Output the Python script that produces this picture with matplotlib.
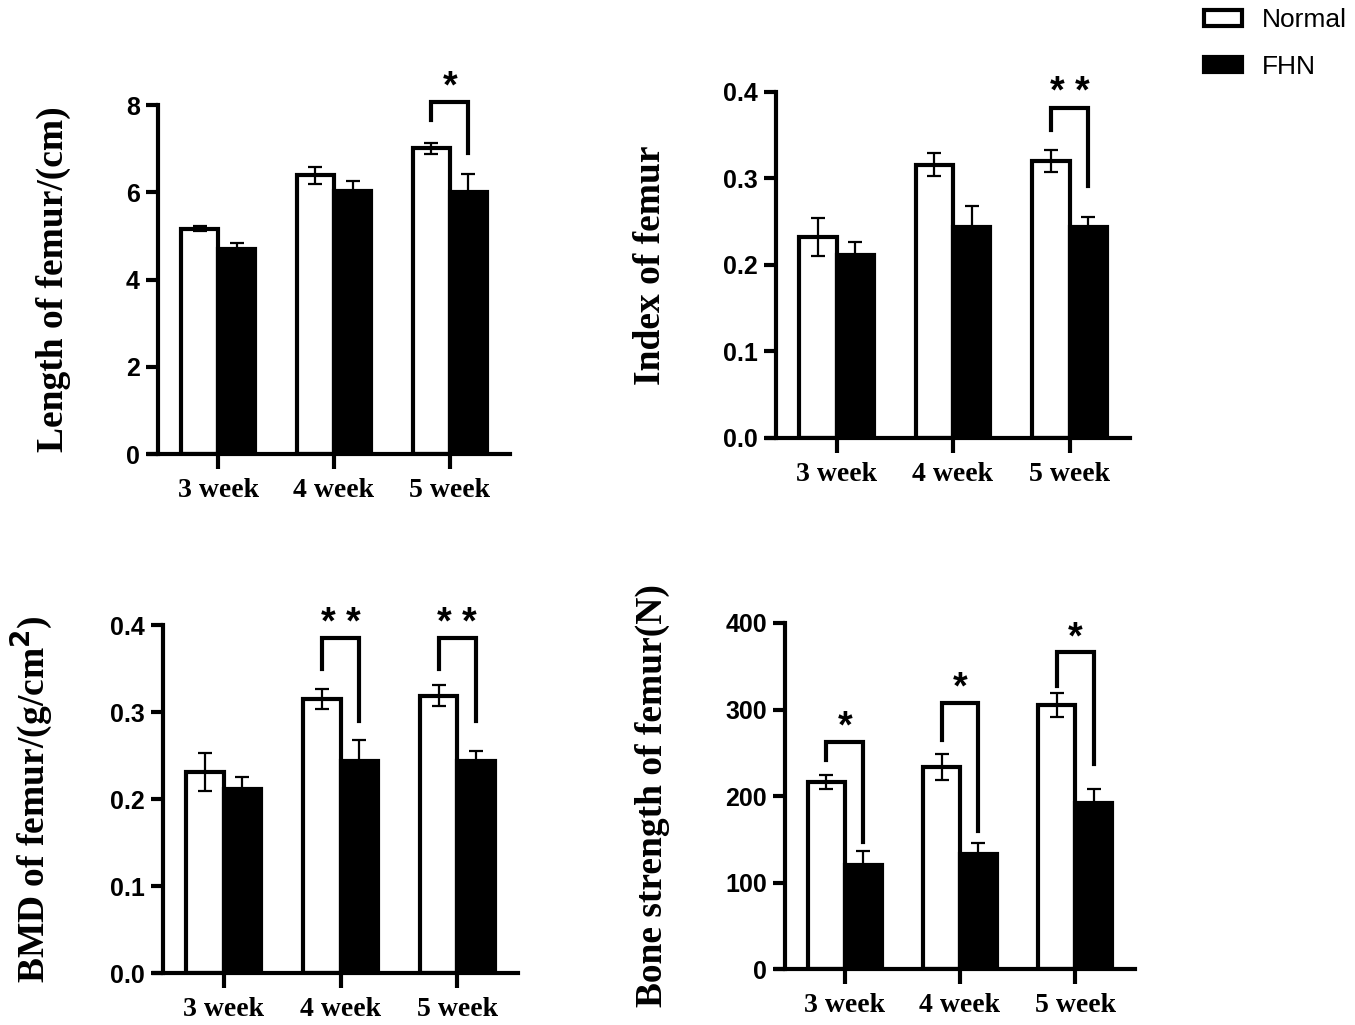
import matplotlib
matplotlib.use("Agg")
import matplotlib.pyplot as plt
import numpy as np

weeks = ["3 week", "4 week", "5 week"]

# femur length (cm)
length_normal = [5.17, 6.39, 7.01]
length_normal_err = [0.06, 0.19, 0.13]
length_fhn = [4.69, 6.03, 6.01]
length_fhn_err = [0.15, 0.22, 0.42]

# femur index
index_normal = [0.232, 0.316, 0.320]
index_normal_err = [0.022, 0.013, 0.013]
index_fhn = [0.211, 0.244, 0.244]
index_fhn_err = [0.015, 0.024, 0.011]

# BMD (g/cm2)
bmd_normal = [0.231, 0.315, 0.319]
bmd_normal_err = [0.022, 0.012, 0.012]
bmd_fhn = [0.211, 0.244, 0.244]
bmd_fhn_err = [0.014, 0.024, 0.011]

# bone strength (N)
strength_normal = [216, 234, 305]
strength_normal_err = [8, 15, 14]
strength_fhn = [120, 133, 192]
strength_fhn_err = [16, 13, 16]

# significance brackets: (group, top, left leg end, right leg end, label)
length_sig = [(2, 8.08, 7.66, 6.89, "*")]
index_sig = [(2, 0.382, 0.356, 0.291, "* *")]
bmd_sig = [(1, 0.385, 0.349, 0.290, "* *"), (2, 0.385, 0.349, 0.290, "* *")]
strength_sig = [(0, 263, 242, 147, "*"), (1, 308, 265, 159, "*"), (2, 366, 327, 237, "*")]

serif = "Liberation Serif"
sans = "Liberation Sans"
W = 0.32
LW = 3

fig = plt.figure(figsize=(13.55, 10.25), dpi=100)


def panel(rect, normal, nerr, fhn, ferr, ylim, yticks, yfmt, ylabel, sigs):
    ax = fig.add_axes(rect)
    x = np.arange(len(weeks))
    ekw = dict(elinewidth=1.6, capthick=1.6, ecolor="black")
    b1 = ax.bar(x - W / 2, normal, W, color="white", edgecolor="black", linewidth=LW,
                yerr=nerr, capsize=5, error_kw=ekw, label="Normal", zorder=2)
    b2 = ax.bar(x + W / 2, fhn, W, color="black", edgecolor="black", linewidth=LW,
                yerr=ferr, capsize=5, error_kw=ekw, label="FHN", zorder=2)
    ax.set_xlim(-0.52, 2.52)
    ax.set_ylim(*ylim)
    ax.set_yticks(yticks)
    ax.set_yticklabels([yfmt.format(v) for v in yticks], fontfamily=sans,
                       fontweight="bold", fontsize=18)
    ax.set_xticks(x)
    ax.set_xticklabels(weeks, fontfamily=serif, fontweight="bold", fontsize=20)
    for s in ["top", "right"]:
        ax.spines[s].set_visible(False)
    for s in ["left", "bottom"]:
        ax.spines[s].set_linewidth(LW)
    ax.spines["bottom"].set_bounds(-0.52 - 0.08, 2.52)
    ax.tick_params(axis="y", width=LW, length=9, pad=4)
    ax.tick_params(axis="x", width=LW, length=11, pad=6)
    ax.set_ylabel(ylabel, fontfamily=serif, fontweight="bold", fontsize=27, labelpad=40)
    for g, top, lft, rgt, lab in sigs:
        xl, xr = g - W / 2, g + W / 2
        ax.plot([xl, xl, xr, xr], [lft, top, top, rgt], color="black", lw=LW,
                solid_joinstyle="miter", clip_on=False, zorder=3)
        ax.annotate(lab, (g, top), xytext=(0, 3), textcoords="offset points",
                    ha="center", va="baseline", fontsize=27, fontweight="bold",
                    fontfamily=sans, annotation_clip=False)
    return b1, b2


h1, h2 = panel([0.1166, 0.557, 0.2598, 0.3405], length_normal, length_normal_err,
               length_fhn, length_fhn_err, (0, 8), [0, 2, 4, 6, 8], "{:g}",
               "Length of femur/(cm)", length_sig)
panel([0.5727, 0.5727, 0.2613, 0.3376], index_normal, index_normal_err,
      index_fhn, index_fhn_err, (0, 0.4), [0, 0.1, 0.2, 0.3, 0.4], "{:.1f}",
      "Index of femur", index_sig)
panel([0.1203, 0.0507, 0.2620, 0.3395], bmd_normal, bmd_normal_err,
      bmd_fhn, bmd_fhn_err, (0, 0.4), [0, 0.1, 0.2, 0.3, 0.4], "{:.1f}",
      r"BMD of femur/(g/cm$^\mathbf{2}$)", bmd_sig)
panel([0.5793, 0.0546, 0.2583, 0.3376], strength_normal, strength_normal_err,
      strength_fhn, strength_fhn_err, (0, 400), [0, 100, 200, 300, 400], "{:d}",
      "Bone strength of femur(N)", strength_sig)

fig.legend([h1, h2], ["Normal", "FHN"], loc="upper left", bbox_to_anchor=(0.871, 1.015),
           frameon=False, prop={"family": sans, "size": 19}, handlelength=1.45,
           handleheight=0.55, labelspacing=0.85, handletextpad=0.75)

fig.savefig("out.png", dpi=100)
